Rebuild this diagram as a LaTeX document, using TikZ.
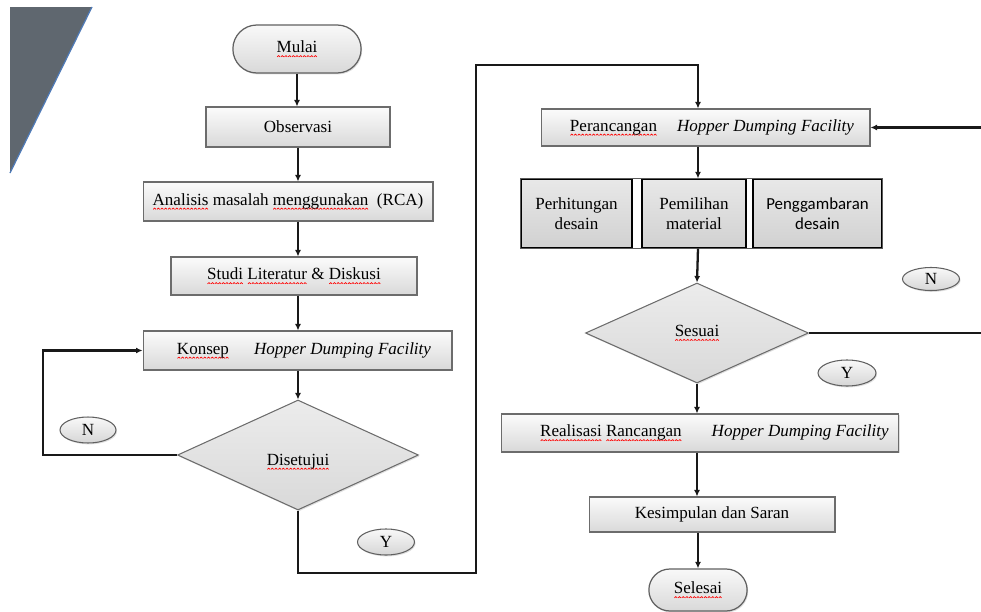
\documentclass[tikz,border=0pt]{standalone}
\usepackage{fontspec}
\setmainfont{Liberation Serif}
\newfontfamily\calibri{Carlito}
\usetikzlibrary{shapes.geometric,shapes.misc,arrows.meta,shadows}
\newsavebox\gelombang
\newcommand\salah[1]{\setbox0\hbox{#1}\rlap{\lower2.6pt\hbox to\wd0{\xleaders\copy\gelombang\hfil}}\box0\relax}
\definecolor{sudut}{HTML}{5F676F}
\definecolor{tepi}{HTML}{4F7BB8}
\tikzset{
  bayang/.style={drop shadow={shadow xshift=.6pt,shadow yshift=-.8pt,opacity=.25}},
  kotak/.style={rectangle, draw=gray!85!black, line width=.6pt, top color=gray!3, bottom color=gray!30, inner sep=1pt, bayang},
  sub/.style={rectangle, draw=black, line width=.7pt, top color=gray!18, bottom color=gray!36, align=center, inner sep=1pt, minimum height=1.38cm},
  keputusan/.style={diamond, draw=gray!85!black, line width=.6pt, top color=gray!15, bottom color=gray!30, inner sep=0pt, bayang},
  terminal/.style={rounded rectangle, draw=gray!75!black, line width=.7pt, top color=gray!5, bottom color=gray!30, bayang},
  jawab/.style={ellipse, draw=gray!75!black, line width=.6pt, top color=gray!5, bottom color=gray!32, inner sep=0pt, minimum width=1.14cm, minimum height=.52cm, bayang},
  garis/.style={line width=1.3pt, black!90},
  panah/.style={garis, -{Latex[length=1.3mm,width=1.2mm]}}
}
\begin{document}
\sbox\gelombang{\pgfpicture
  \pgfpathmoveto{\pgfpoint{0pt}{0pt}}\pgfpathlineto{\pgfpoint{.8pt}{.7pt}}\pgfpathlineto{\pgfpoint{1.6pt}{0pt}}
  \pgfsetlinewidth{.4pt}\pgfsetstrokecolor{red}\pgfusepath{stroke}\endpgfpicture}
\begin{tikzpicture}[x=0.02cm, y=-0.02cm, font=\rmfamily\fontsize{9.7}{11.4}\selectfont]
\useasboundingbox (0,0) rectangle (981,612);
\fill[sudut] (10,7) -- (92,7) -- (10,173) -- cycle;
\draw[tepi, line width=.7pt] (92,7) -- (10,173);

\node[terminal, minimum width=2.8cm, minimum height=.96cm] (mulai) at (297,49) {\salah{Mulai}};
\node[kotak, minimum width=3.68cm, minimum height=.8cm] (observasi) at (298,127) {Observasi};
\node[kotak, minimum width=5.8cm, minimum height=.78cm] (analisis) at (288,201.5) {\salah{Analisis} masalah \salah{menggunakan}\ \ (RCA)};
\node[kotak, minimum width=4.92cm, minimum height=.76cm] (studi) at (294,276) {\salah{Studi} \salah{Literatur} \& \salah{Diskusi}};
\node[kotak, minimum width=6.18cm, minimum height=.78cm] (konsep) at (297.5,350.5) {\hspace*{.26cm}\salah{Konsep}\hspace{.5cm}\textit{Hopper Dumping Facility}};
\node[keputusan, minimum width=4.82cm, minimum height=2.2cm] (disetujui) at (298,455) {\raisebox{-.5cm}{\salah{Disetujui}}};
\node[jawab, minimum width=1.12cm] (n1) at (88,430) {N};
\node[jawab] (y1) at (386,542) {Y};
\coordinate (kiri) at (43,0);
\coordinate (bawah) at (476,573);
\coordinate (atas) at (698,65);

\node[kotak, minimum width=6.58cm, minimum height=.74cm] (perancangan) at (705.5,127.5) {\hspace*{.26cm}\salah{Perancangan}\hspace{.4cm}\textit{Hopper Dumping Facility}};
\node[sub, minimum width=2.22cm] (hitung) at (576.5,213.5) {Perhitungan\\desain};
\node[sub, minimum width=2.08cm] (material) at (694,213.5) {Pemilihan\\material};
\node[sub, minimum width=2.58cm, font=\calibri\fontsize{9.6}{11.4}\selectfont] (gambar) at (817.5,213.5) {Penggambaran\\desain};
\draw[line width=.4pt, gray!70!black] (hitung.north west) rectangle (gambar.south east);
\node[keputusan, minimum width=4.46cm, minimum height=2cm] (sesuai) at (697,333) {\salah{Sesuai}};
\node[jawab, minimum height=.46cm] (n2) at (931,279) {N};
\node[jawab, minimum width=1.16cm] (y2) at (847,373) {Y};
\node[kotak, minimum width=7.96cm, minimum height=.76cm] (realisasi) at (700,433) {\hspace*{.58cm}\salah{Realisasi} \salah{Rancangan}\hspace{.6cm}\textit{Hopper Dumping Facility}};
\node[kotak, minimum width=4.92cm, minimum height=.7cm] (kesimpulan) at (712,514.5) {Kesimpulan dan Saran};
\node[terminal, minimum width=2.2cm, minimum height=.84cm] (selesai) at (698,590) {\salah{Selesai}};
\coordinate (kanan) at (992,0);

\draw[panah] (mulai.south) -- (mulai.south |- observasi.north);
\draw[panah] (observasi.south) -- (observasi.south |- analisis.north);
\draw[panah] (observasi.south |- analisis.south) -- (observasi.south |- studi.north);
\draw[panah] (observasi.south |- studi.south) -- (observasi.south |- konsep.north);
\draw[panah] (observasi.south |- konsep.south) -- (disetujui.north);
\draw[panah] (disetujui.west) -- (kiri |- disetujui.west) |- (konsep.west);
\draw[panah] (disetujui.south) |- (bawah) |- (atas) -- (atas |- perancangan.north);
\draw[panah] (atas |- perancangan.south) -- (atas |- material.north);
\draw[panah] (atas |- material.south) -- (sesuai.north);
\draw[panah] (sesuai.east) -- (kanan |- sesuai.east) |- (perancangan.east);
\draw[panah] (sesuai.south) -- (sesuai.south |- realisasi.north);
\draw[panah] (sesuai.south |- realisasi.south) -- (sesuai.south |- kesimpulan.north);
\draw[panah] (selesai.north |- kesimpulan.south) -- (selesai.north);
\end{tikzpicture}
\end{document}
